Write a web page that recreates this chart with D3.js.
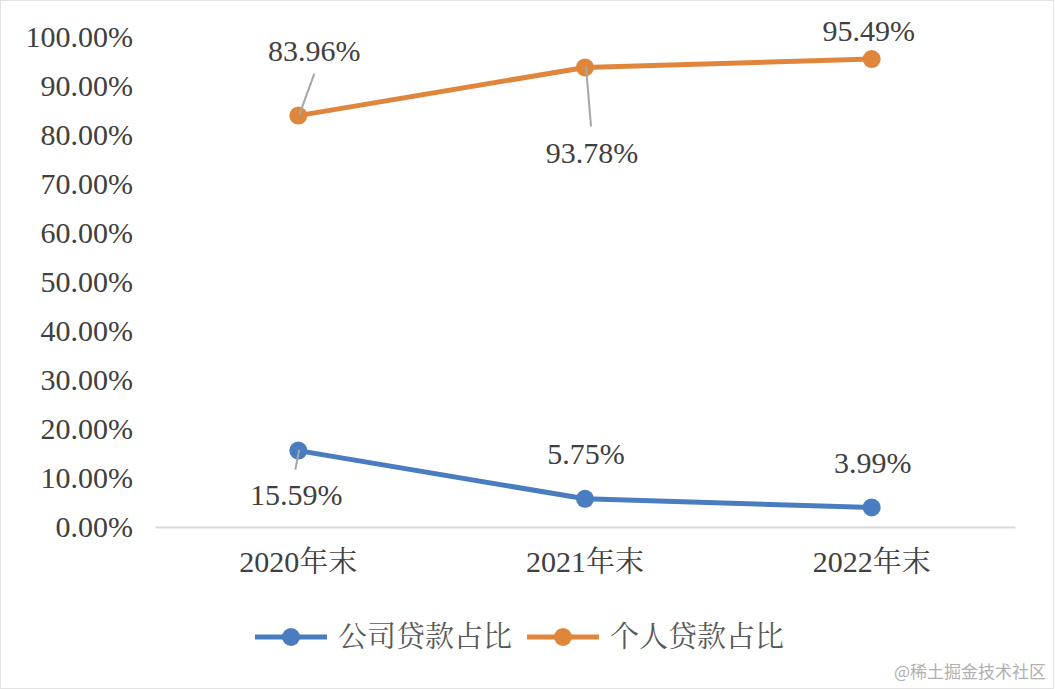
<!DOCTYPE html>
<html>
<head>
<meta charset="utf-8">
<title>贷款占比</title>
<style>
  body { margin: 0; background: #fff; }
  svg { display: block; }
</style>
</head>
<body>
<svg id="canvas"></svg>
<script src="https://cdn.jsdelivr.net/npm/d3@7"></script>
<script>
  const width = 1055;
  const height = 689;

  // data
  const categories = ["2020年末", "2021年末", "2022年末"];
  const corporate = [15.59, 5.75, 3.99];
  const personal = [83.96, 93.78, 95.49];
  const seriesNames = ["公司贷款占比", "个人贷款占比"];
  const yTicks = [0, 10, 20, 30, 40, 50, 60, 70, 80, 90, 100];

  const colors = ["#4a7cc0", "#e0863c"];
  const fontFamily = "'Liberation Serif', serif";
  const cjkFont = "'Noto Serif CJK SC', serif";
  const textColor = "#404040";

  // label offsets from the point [dx, dy] and leader line end [lx, ly] (null = none)
  const labelPlace = [
    [[-2, 44, -3, 19], [1, -45, null, null], [1, -45, null, null]],
    [[16, -65, 16, -42], [7, 85, 6, 59], [-3, -29, null, null]]
  ];

  const svg = d3.select("#canvas")
    .attr("width", width)
    .attr("height", height)
    .attr("viewBox", [0, 0, width, height]);

  svg.append("rect")
    .attr("x", 0.5).attr("y", 0.5)
    .attr("width", width - 2).attr("height", height - 1)
    .attr("fill", "#fff")
    .attr("stroke", "#e3e3e3");

  const x = d3.scaleBand().domain(categories).range([155, 1015]);
  const y = d3.scaleLinear().domain([0, 100]).range([527, 37]);

  // y axis labels
  const yAxis = svg.append("g")
    .attr("transform", "translate(155,0)")
    .call(d3.axisLeft(y).tickValues(yTicks).tickSize(0).tickPadding(22)
      .tickFormat(d => d.toFixed(2) + "%"));
  yAxis.select(".domain").remove();
  yAxis.selectAll("text")
    .style("font-family", fontFamily)
    .style("font-size", "30px")
    .attr("fill", textColor);

  // x axis, year digits in serif latin, 年末 in serif CJK
  const xAxis = svg.append("g")
    .attr("transform", "translate(0," + y(0) + ")")
    .call(d3.axisBottom(x).tickSize(0).tickPadding(24).tickFormat(""));
  xAxis.select(".domain").attr("stroke", "#d9d9d9").attr("stroke-width", 2);
  xAxis.selectAll("text")
    .style("font-size", "30px")
    .attr("fill", textColor)
    .attr("dy", "0.71em")
    .each(function(d) {
      const t = d3.select(this);
      t.append("tspan").style("font-family", fontFamily).text(d.slice(0, 4));
      t.append("tspan").style("font-family", cjkFont).style("font-size", "29px").text(d.slice(4));
    });

  const cx = d => x(d) + x.bandwidth() / 2;
  const line = d3.line()
    .x((d, i) => cx(categories[i]))
    .y(d => y(d));

  [corporate, personal].forEach((values, s) => {
    svg.append("path")
      .datum(values)
      .attr("fill", "none")
      .attr("stroke", colors[s])
      .attr("stroke-width", 5)
      .attr("stroke-linejoin", "round")
      .attr("d", line);

    svg.append("g").selectAll("circle")
      .data(values)
      .join("circle")
      .attr("cx", (d, i) => cx(categories[i]))
      .attr("cy", d => y(d))
      .attr("r", 9)
      .attr("fill", colors[s]);

    values.forEach((v, i) => {
      const px = cx(categories[i]);
      const py = y(v);
      const [dx, dy, lx, ly] = labelPlace[s][i];
      if (lx !== null) {
        // leader line
        svg.append("line")
          .attr("x1", px + 1)
          .attr("y1", py - 1)
          .attr("x2", px + lx)
          .attr("y2", py + ly)
          .attr("stroke", "#a6a6a6")
          .attr("stroke-width", 2);
      }
      svg.append("text")
        .attr("x", px + dx)
        .attr("y", py + dy)
        .attr("dy", "0.35em")
        .attr("text-anchor", "middle")
        .style("font-family", fontFamily)
        .style("font-size", "30px")
        .attr("fill", textColor)
        .text(v.toFixed(2) + "%");
    });
  });

  // legend
  const legendX = [255, 527];
  const legend = svg.append("g").selectAll("g")
    .data(seriesNames)
    .join("g")
    .attr("transform", (d, i) => "translate(" + legendX[i] + ",637)");
  legend.append("line")
    .attr("x1", 0).attr("x2", 72)
    .attr("stroke", (d, i) => colors[i])
    .attr("stroke-width", 5);
  legend.append("circle")
    .attr("cx", 36).attr("r", 9)
    .attr("fill", (d, i) => colors[i]);
  legend.append("text")
    .attr("x", 83)
    .attr("dy", "0.36em")
    .style("font-family", cjkFont)
    .style("font-size", "29px")
    .attr("fill", "#595959")
    .text(d => d);

  // watermark
  svg.append("text")
    .attr("x", 1046)
    .attr("y", 678)
    .attr("text-anchor", "end")
    .style("font-family", "'Noto Sans CJK SC', sans-serif")
    .style("font-size", "17px")
    .attr("fill", "#b0b0b0")
    .text("@稀土掘金技术社区");
</script>
</body>
</html>
